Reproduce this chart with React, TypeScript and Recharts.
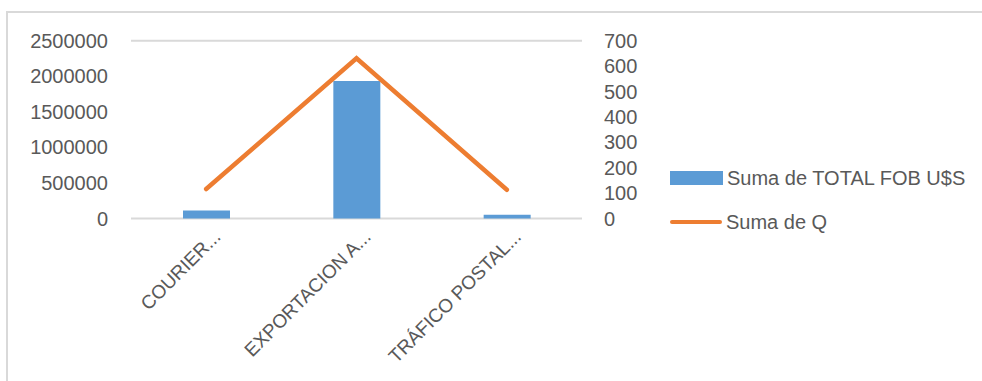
import React from "react";
import { ComposedChart, Bar, Line, XAxis, YAxis, CartesianGrid } from "recharts";

const categories = ["COURIER...", "EXPORTACION A...", "TRÁFICO POSTAL..."];
const totalFob = [112000, 1934000, 52000];
const sumaQ = [116, 631, 113];
const leftTicks = [0, 500000, 1000000, 1500000, 2000000, 2500000];
const rightTicks = [0, 100, 200, 300, 400, 500, 600, 700];

const data = categories.map((name, i) => ({ name, fob: totalFob[i], q: sumaQ[i] }));

const FONT = "'Liberation Sans', Arial, sans-serif";
const TEXT = "#595959";
const BLUE = "#5B9BD5";
const ORANGE = "#ED7D31";
const GRID = "#D9D9D9";

const CatTick = (props: any) => {
  const { x, payload } = props;
  const ex = x + 15.5;
  const ey = 238;
  return (
    <text
      x={ex}
      y={ey}
      textAnchor="end"
      transform={`rotate(-45, ${ex}, ${ey})`}
      fill={TEXT}
      fontSize={19}
      fontFamily={FONT}
    >
      {payload.value}
    </text>
  );
};

export default function App() {
  return (
    <div style={{ position: "absolute", left: 0, top: 0, width: 982, height: 381, overflow: "hidden", background: "#fff" }}>
      <div
        style={{
          position: "absolute",
          left: 6,
          top: 11,
          width: 1100,
          height: 500,
          border: `2px solid ${GRID}`,
          boxSizing: "border-box",
        }}
      />
      <div style={{ position: "absolute", left: 0, top: 0 }}>
        <ComposedChart
          width={982}
          height={381}
          data={data}
          margin={{ top: 40.7, right: 340, bottom: 0, left: 0 }}
          barCategoryGap={0}
        >
          <CartesianGrid vertical={false} stroke={GRID} strokeWidth={2} />
          <XAxis
            dataKey="name"
            interval={0}
            axisLine={false}
            tickLine={false}
            tick={<CatTick />}
            height={162.5}
          />
          <YAxis
            yAxisId="left"
            orientation="left"
            width={131}
            domain={[0, 2500000]}
            ticks={leftTicks}
            interval={0}
            axisLine={false}
            tickLine={false}
            tickSize={6}
            tickMargin={17}
            tick={{ fill: TEXT, fontSize: 20, fontFamily: FONT }}
          />
          <YAxis
            yAxisId="right"
            orientation="right"
            width={60}
            domain={[0, 700]}
            ticks={rightTicks}
            interval={0}
            axisLine={false}
            tickLine={false}
            tickSize={6}
            tickMargin={16}
            tick={{ fill: TEXT, fontSize: 20, fontFamily: FONT, textAnchor: "start" }}
          />
          <Bar yAxisId="left" dataKey="fob" fill={BLUE} barSize={47} isAnimationActive={false} />
          <Line
            yAxisId="right"
            dataKey="q"
            stroke={ORANGE}
            strokeWidth={4.5}
            strokeLinecap="round"
            strokeLinejoin="miter"
            dot={false}
            activeDot={false}
            isAnimationActive={false}
          />
        </ComposedChart>
      </div>
      <div style={{ position: "absolute", left: 670, top: 163, fontFamily: FONT, fontSize: 20, color: TEXT }}>
        <div style={{ display: "flex", alignItems: "center", height: 30 }}>
          <div style={{ width: 53, height: 14, background: BLUE, marginRight: 4 }} />
          <span>Suma de TOTAL FOB U$S</span>
        </div>
        <div style={{ display: "flex", alignItems: "center", height: 30, marginTop: 14 }}>
          <div style={{ width: 52, height: 4.5, background: ORANGE, borderRadius: 3, marginRight: 4 }} />
          <span>Suma de Q</span>
        </div>
      </div>
    </div>
  );
}
